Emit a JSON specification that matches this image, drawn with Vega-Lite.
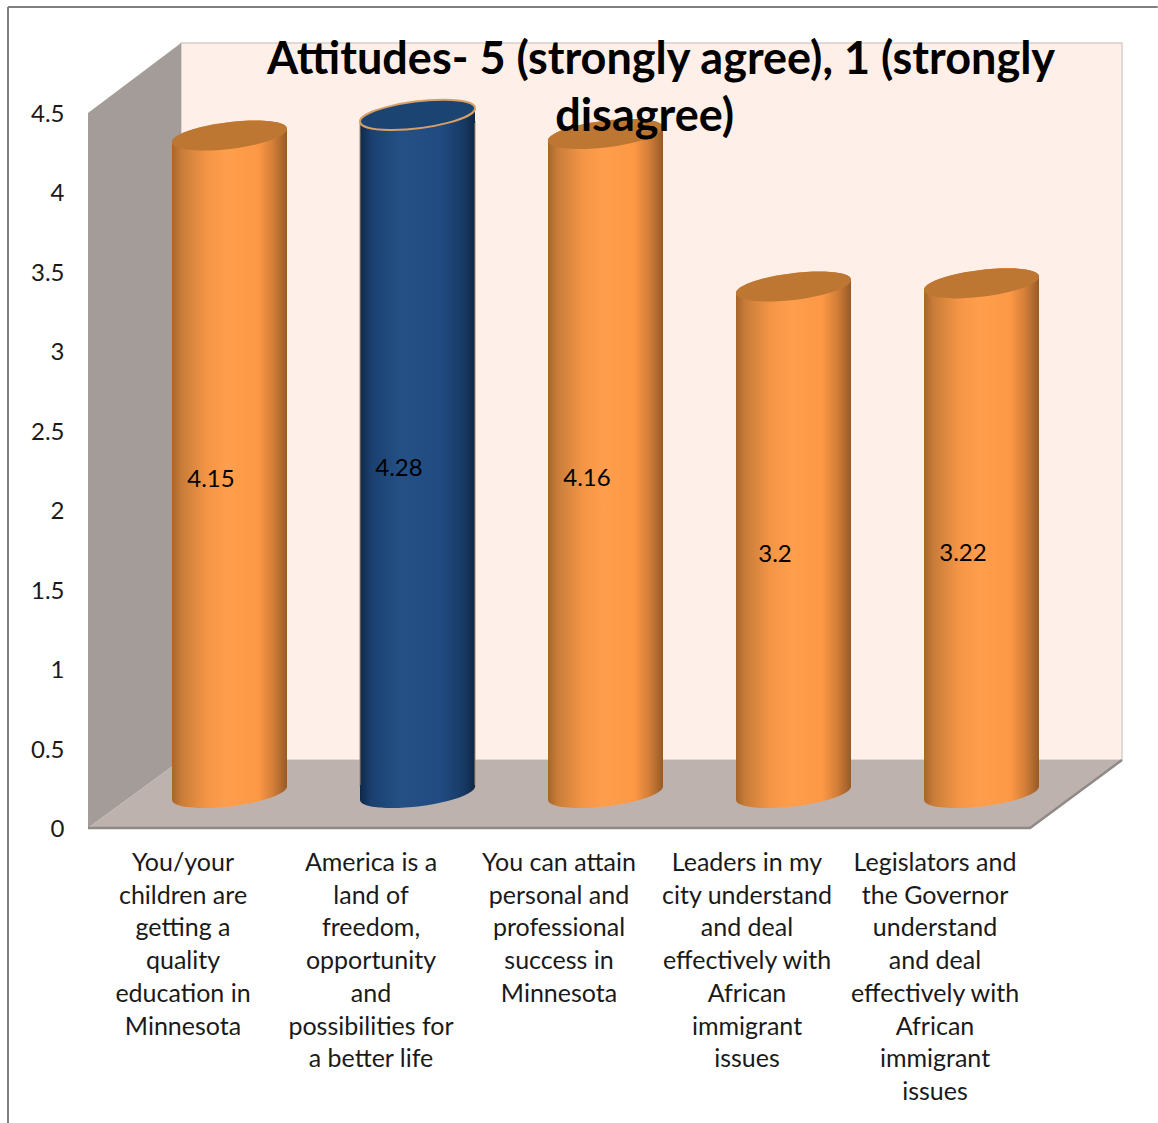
{
"$schema":"https://vega.github.io/schema/vega-lite/v6.json",
"width":1034,"height":785,
"autosize":{"type":"none"},
"padding":{"left":88,"top":43,"right":36,"bottom":295},
"background":"white",
"view":{"stroke":null},
"config":{"font":"Lato"},
"title":{"text":["Attitudes- 5 (strongly agree), 1 (strongly","disagree)\u00a0\u00a0\u00a0\u200b"],"font":"Lato","fontSize":45,"fontWeight":"bold","color":"#000000","lineHeight":57,"anchor":"middle","frame":"group","dx":56,"offset":-134},
"datasets":{
"bars":[
{"category":"You/your\nchildren are\ngetting a\nquality\neducation in\nMinnesota","index":1,"value":4.15,"series":"orange"},
{"category":"America is a\nland of\nfreedom,\nopportunity\nand\npossibilities for\na better life","index":2,"value":4.28,"series":"blue"},
{"category":"You can attain\npersonal and\nprofessional\nsuccess in\nMinnesota","index":3,"value":4.16,"series":"orange"},
{"category":"Leaders in my\ncity understand\nand deal\neffectively with\nAfrican\nimmigrant\nissues","index":4,"value":3.2,"series":"orange"},
{"category":"Legislators and\nthe Governor\nunderstand\nand deal\neffectively with\nAfrican\nimmigrant\nissues","index":5,"value":3.22,"series":"orange"}],
"leftwall":[{"p":0.5,"hi":4.5,"lo":0},{"p":0.995,"hi":4.94,"lo":0.428}],
"floor":[{"p":0.5,"hi":0,"lo":0},{"p":0.995,"hi":0.428,"lo":0},{"p":5.511,"hi":0.428,"lo":0},{"p":6.0,"hi":0.428,"lo":0.428}],
"edge":[{"p":0.5,"v":0},{"p":5.511,"v":0},{"p":6.0,"v":0.428}],
"backwall":[{"p":0.995,"p2":6.0,"hi":4.94,"lo":0.428}],
"frameLeft":[{"p":0.0745,"hi":5.167,"lo":-1.86}],
"frameTop":[{"p":0.0745,"p2":6.19,"hi":5.167}]
},
"resolve":{"scale":{"y":"independent"}},
"layer":[
{"data":{"name":"backwall"},"mark":{"type":"rect","fill":"#FEF0E9","stroke":"#d6d0cd","strokeWidth":1.5},
 "encoding":{"x":{"field":"p","type":"quantitative","scale":{"domain":[0.5,6.0],"nice":false,"zero":false,"padding":0},"axis":null},"x2":{"field":"p2"},
 "y":{"field":"hi","type":"quantitative","scale":{"domain":[0,4.94],"nice":false},"axis":{"values":[0,0.5,1,1.5,2,2.5,3,3.5,4,4.5],"format":"~g","grid":false,"ticks":false,"domain":false,"title":null,"labelFont":"Lato","labelFontSize":24,"labelColor":"#1a1a1a","labelPadding":24,"labelOffset":1.5}},"y2":{"field":"lo"}}},
{"data":{"name":"leftwall"},"mark":{"type":"area","fill":"#A39C99"},
 "encoding":{"x":{"field":"p","type":"quantitative","scale":{"domain":[0.5,6.0],"nice":false,"zero":false,"padding":0},"axis":null},
 "y":{"field":"hi","type":"quantitative","scale":{"domain":[0,4.94],"nice":false},"axis":null},"y2":{"field":"lo"}}},
{"data":{"name":"floor"},"mark":{"type":"area","fill":"#BDB2AE"},
 "encoding":{"x":{"field":"p","type":"quantitative","scale":{"domain":[0.5,6.0],"nice":false,"zero":false,"padding":0},"axis":null},
 "y":{"field":"hi","type":"quantitative","scale":{"domain":[0,4.94],"nice":false},"axis":null},"y2":{"field":"lo"}}},
{"data":{"name":"edge"},"mark":{"type":"line","stroke":"#8f8a88","strokeWidth":2.5},
 "encoding":{"x":{"field":"p","type":"quantitative","scale":{"domain":[0.5,6.0],"nice":false,"zero":false,"padding":0},"axis":null},
 "y":{"field":"v","type":"quantitative","scale":{"domain":[0,4.94],"nice":false},"axis":null}}},
{"data":{"name":"frameLeft"},"mark":{"type":"rule","stroke":"#808080","strokeWidth":2},
 "encoding":{"x":{"field":"p","type":"quantitative","scale":{"domain":[0.5,6.0],"nice":false,"zero":false,"padding":0},"axis":null},
 "y":{"field":"hi","type":"quantitative","scale":{"domain":[0,4.94],"nice":false},"axis":null},"y2":{"field":"lo"}}},
{"data":{"name":"frameTop"},"mark":{"type":"rule","stroke":"#808080","strokeWidth":2},
 "encoding":{"x":{"field":"p","type":"quantitative","scale":{"domain":[0.5,6.0],"nice":false,"zero":false,"padding":0},"axis":null},"x2":{"field":"p2"},
 "y":{"field":"hi","type":"quantitative","scale":{"domain":[0,4.94],"nice":false},"axis":null}}},
{"data":{"name":"bars"},"transform":[{"filter":"datum.series==='orange'"}],
 "mark":{"type":"bar","size":115,"xOffset":47.5,"yOffset":-27,"y2Offset":-41,"fill":{"gradient":"linear","x1":0,"x2":1,"y1":0,"y2":0,"stops":[{"offset":0,"color":"#A8642A"},{"offset":0.08,"color":"#C87C38"},{"offset":0.3,"color":"#F49546"},{"offset":0.48,"color":"#FF9E4C"},{"offset":0.75,"color":"#FC9846"},{"offset":0.88,"color":"#D27E38"},{"offset":1,"color":"#985A26"}]}},
 "encoding":{"x":{"field":"index","type":"quantitative","scale":{"domain":[0.5,6.0],"nice":false,"zero":false,"padding":0},"axis":null},
 "y":{"field":"value","type":"quantitative","scale":{"domain":[0,4.94],"nice":false},"axis":null},"y2":{"datum":0}}},
{"data":{"name":"bars"},"transform":[{"filter":"datum.series==='blue'"}],
 "mark":{"type":"bar","size":115,"xOffset":47.5,"yOffset":-27,"y2Offset":-41,"stroke":"#A98A68","strokeWidth":1,"fill":{"gradient":"linear","x1":0,"x2":1,"y1":0,"y2":0,"stops":[{"offset":0,"color":"#10294A"},{"offset":0.1,"color":"#1A4070"},{"offset":0.35,"color":"#245085"},{"offset":0.7,"color":"#214B80"},{"offset":0.9,"color":"#173A64"},{"offset":1,"color":"#0F2745"}]}},
 "encoding":{"x":{"field":"index","type":"quantitative","scale":{"domain":[0.5,6.0],"nice":false,"zero":false,"padding":0},"axis":null},
 "y":{"field":"value","type":"quantitative","scale":{"domain":[0,4.94],"nice":false},"axis":null},"y2":{"datum":0}}},
{"data":{"name":"bars"},"transform":[{"filter":"datum.series==='orange'"}],
 "mark":{"type":"point","filled":true,"opacity":1,"size":13225,"xOffset":47.5,"yOffset":-33,"shape":"M-1,.14L-1,.122A1.0075,.23 -7 1,1 1,-.122L1,.14Z","fill":{"gradient":"linear","x1":0,"x2":1,"y1":0,"y2":0,"stops":[{"offset":0,"color":"#A8642A"},{"offset":0.08,"color":"#C87C38"},{"offset":0.3,"color":"#F49546"},{"offset":0.48,"color":"#FF9E4C"},{"offset":0.75,"color":"#FC9846"},{"offset":0.88,"color":"#D27E38"},{"offset":1,"color":"#985A26"}]}},
 "encoding":{"x":{"field":"index","type":"quantitative","scale":{"domain":[0.5,6.0],"nice":false,"zero":false,"padding":0},"axis":null},
 "y":{"field":"value","type":"quantitative","scale":{"domain":[0,4.94],"nice":false},"axis":null}}},
{"data":{"name":"bars"},"transform":[{"filter":"datum.series==='blue'"}],
 "mark":{"type":"point","filled":true,"opacity":1,"size":13225,"xOffset":47.5,"yOffset":-33,"shape":"M-1,.14L-1,.122A1.0075,.23 -7 1,1 1,-.122L1,.14Z","fill":{"gradient":"linear","x1":0,"x2":1,"y1":0,"y2":0,"stops":[{"offset":0,"color":"#10294A"},{"offset":0.1,"color":"#1A4070"},{"offset":0.35,"color":"#245085"},{"offset":0.7,"color":"#214B80"},{"offset":0.9,"color":"#173A64"},{"offset":1,"color":"#0F2745"}]}},
 "encoding":{"x":{"field":"index","type":"quantitative","scale":{"domain":[0.5,6.0],"nice":false,"zero":false,"padding":0},"axis":null},
 "y":{"field":"value","type":"quantitative","scale":{"domain":[0,4.94],"nice":false},"axis":null}}},
{"data":{"name":"bars"},"transform":[{"filter":"datum.series==='orange'"}],
 "mark":{"type":"point","filled":true,"opacity":1,"size":13225,"xOffset":47.5,"yOffset":-33,"shape":"M-1,.122A1.0075,.23 -7 1,1 1,-.122A1.0075,.23 -7 1,1 -1,.122Z","fill":"#BE7733"},
 "encoding":{"x":{"field":"index","type":"quantitative","scale":{"domain":[0.5,6.0],"nice":false,"zero":false,"padding":0},"axis":null},
 "y":{"field":"value","type":"quantitative","scale":{"domain":[0,4.94],"nice":false},"axis":null}}},
{"data":{"name":"bars"},"transform":[{"filter":"datum.series==='blue'"}],
 "mark":{"type":"point","filled":true,"opacity":1,"size":13225,"xOffset":47.5,"yOffset":-33,"shape":"M-1,.122A1.0075,.23 -7 1,1 1,-.122A1.0075,.23 -7 1,1 -1,.122Z","fill":"#1B4473","stroke":"#D9A066","strokeWidth":2},
 "encoding":{"x":{"field":"index","type":"quantitative","scale":{"domain":[0.5,6.0],"nice":false,"zero":false,"padding":0},"axis":null},
 "y":{"field":"value","type":"quantitative","scale":{"domain":[0,4.94],"nice":false},"axis":null}}},
{"data":{"name":"bars"},"transform":[{"filter":"datum.series==='orange'"}],
 "mark":{"type":"point","filled":true,"opacity":1,"size":13225,"xOffset":47.5,"yOffset":-35,"shape":"M-1,-.14L1,-.14L1,-.122A1.0075,.23 -7 1,1 -1,.122Z","fill":{"gradient":"linear","x1":0,"x2":1,"y1":0,"y2":0,"stops":[{"offset":0,"color":"#A8642A"},{"offset":0.08,"color":"#C87C38"},{"offset":0.3,"color":"#F49546"},{"offset":0.48,"color":"#FF9E4C"},{"offset":0.75,"color":"#FC9846"},{"offset":0.88,"color":"#D27E38"},{"offset":1,"color":"#985A26"}]}},
 "encoding":{"x":{"field":"index","type":"quantitative","scale":{"domain":[0.5,6.0],"nice":false,"zero":false,"padding":0},"axis":null},
 "y":{"datum":0,"type":"quantitative","scale":{"domain":[0,4.94],"nice":false},"axis":null}}},
{"data":{"name":"bars"},"transform":[{"filter":"datum.series==='blue'"}],
 "mark":{"type":"point","filled":true,"opacity":1,"size":13225,"xOffset":47.5,"yOffset":-35,"shape":"M-1,-.14L1,-.14L1,-.122A1.0075,.23 -7 1,1 -1,.122Z","fill":{"gradient":"linear","x1":0,"x2":1,"y1":0,"y2":0,"stops":[{"offset":0,"color":"#10294A"},{"offset":0.1,"color":"#1A4070"},{"offset":0.35,"color":"#245085"},{"offset":0.7,"color":"#214B80"},{"offset":0.9,"color":"#173A64"},{"offset":1,"color":"#0F2745"}]}},
 "encoding":{"x":{"field":"index","type":"quantitative","scale":{"domain":[0.5,6.0],"nice":false,"zero":false,"padding":0},"axis":null},
 "y":{"datum":0,"type":"quantitative","scale":{"domain":[0,4.94],"nice":false},"axis":null}}},
{"data":{"name":"bars"},"mark":{"type":"text","font":"Lato","fontSize":24,"color":"#000000","dx":29,"dy":-18.5},
 "encoding":{"x":{"field":"index","type":"quantitative","scale":{"domain":[0.5,6.0],"nice":false,"zero":false,"padding":0},"axis":null},
 "y":{"field":"value","type":"quantitative","scale":{"domain":[0,9.88],"nice":false},"axis":null},"text":{"field":"value","type":"quantitative"}}},
{"data":{"name":"bars"},"mark":{"type":"text","font":"Lato","fontSize":25,"color":"#1a1a1a","baseline":"top","lineBreak":"\n","lineHeight":32.7,"dx":1,"dy":23},
 "encoding":{"x":{"field":"index","type":"quantitative","scale":{"domain":[0.5,6.0],"nice":false,"zero":false,"padding":0},"axis":null},
 "y":{"datum":0,"type":"quantitative","scale":{"domain":[0,4.94],"nice":false},"axis":null},"text":{"field":"category","type":"nominal"}}}
]
}
